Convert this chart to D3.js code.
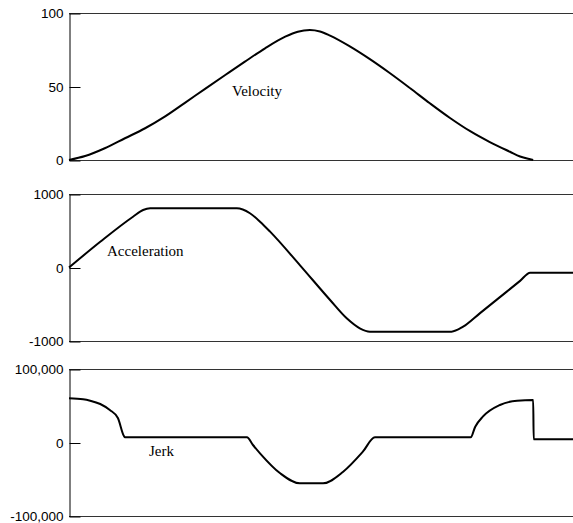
<!DOCTYPE html>
<html>
<head>
<meta charset="utf-8">
<script src="https://cdn.jsdelivr.net/npm/d3@7"></script>
<style>
  body { margin: 0; background: #fff; }
</style>
</head>
<body>
<script>
const w = 573;
const h = 523;

// time in arbitrary units, 0..100 across the plot
const velT = [0, 3.2, 7.1, 11.1, 15.1, 19.0, 23.0, 27.0, 31.0, 34.9, 38.9, 42.9, 45.4, 47.8, 49.8, 51.8, 55.8, 59.7, 63.7, 67.7, 71.6, 75.6, 79.6, 83.5, 87.5, 89.5, 91.5, 92.1];
const velV = [0, 2.7, 8.0, 14.8, 21.6, 29.5, 38.9, 48.4, 57.8, 66.9, 76.0, 83.9, 87.3, 88.4, 87.4, 84.6, 77.1, 68.6, 59.0, 48.8, 38.6, 28.6, 19.6, 12.2, 5.6, 2.4, 0.5, 0];

const accT = [0, 6.2, 12.7, 14.7, 16.1, 33.3, 35.9, 37.9, 39.9, 45.8, 51.8, 55.1, 57.7, 59.7, 75.9, 78.2, 81.5, 85.5, 89.5, 91.5, 100];
const accV = [0, 350, 691, 782, 805, 805, 738, 624, 488, 33, -442, -691, -827, -873, -873, -805, -624, -403, -182, -71, -71];

const jerkT = [0, 2.8, 4.2, 6.2, 8.1, 9.7, 10.9, 11.1, 35.3, 36.5, 37.9, 41.9, 45.8, 50.4, 54.4, 58.3, 60.7, 79.7, 80.6, 82.1, 85.5, 88.9, 92.1, 92.2, 100];
const jerkV = [60100, 58800, 56900, 52400, 44200, 33300, 8800, 7100, 7100, -3400, -14700, -41900, -55500, -55500, -39700, -12500, 7100, 7100, 21500, 35100, 51000, 56900, 57800, 4400, 4400];

const velTicks = [0, 50, 100];
const velTickLabels = ["0", "50", "100"];
const accTicks = [-1000, 0, 1000];
const accTickLabels = ["-1000", "0", "1000"];
const jerkTicks = [-100000, 0, 100000];
const jerkTickLabels = ["-100,000", "0", "100,000"];

const left = 69;
const panelH = 147;

const panels = [
  {top: 13, domain: [0, 100], t: velT, v: velV, ticks: velTicks, labels: velTickLabels,
   name: "Velocity", lx: 232, ly: 96},
  {top: 194, domain: [-1000, 1000], t: accT, v: accV, ticks: accTicks, labels: accTickLabels,
   name: "Acceleration", lx: 107, ly: 256},
  {top: 369, domain: [-100000, 100000], t: jerkT, v: jerkV, ticks: jerkTicks, labels: jerkTickLabels,
   name: "Jerk", lx: 149, ly: 456}
];

const svg = d3.select("body")
              .append("svg")
              .attr("width", w)
              .attr("height", h);

const x = d3.scaleLinear()
            .domain([0, 100])
            .range([left, w]);

panels.forEach(p => {
  const y = d3.scaleLinear()
              .domain(p.domain)
              .range([p.top + panelH, p.top]);

  const g = svg.append("g");

  // top and bottom border
  g.selectAll("line.border")
   .data(p.domain)
   .enter()
   .append("line")
   .attr("class", "border")
   .attr("x1", left)
   .attr("x2", w)
   .attr("y1", d => y(d) + 0.5)
   .attr("y2", d => y(d) + 0.5)
   .attr("stroke", "#333")
   .attr("stroke-width", 1);

  const axis = d3.axisLeft(y)
                 .tickValues(p.ticks)
                 .tickFormat((d, i) => p.labels[i])
                 .tickSizeInner(-11)
                 .tickSizeOuter(0)
                 .tickPadding(6);

  const ag = g.append("g")
              .attr("transform", "translate(" + (left + 0.5) + ",0.5)")
              .call(axis);
  ag.select(".domain").attr("stroke", "#000");
  ag.selectAll(".tick line").attr("stroke", "#000");
  ag.selectAll("text")
    .attr("fill", "#000")
    .style("font-family", "'Liberation Sans', Arial, sans-serif")
    .style("font-size", "13.5px");

  const line = d3.line()
                 .curve(d3.curveMonotoneX)
                 .x(d => x(d[0]))
                 .y(d => y(d[1]));

  g.append("path")
   .datum(d3.zip(p.t, p.v))
   .attr("fill", "none")
   .attr("stroke", "#000")
   .attr("stroke-width", 2)
   .attr("stroke-linejoin", "round")
   .attr("d", line);

  g.append("text")
   .attr("x", p.lx)
   .attr("y", p.ly)
   .attr("style", "font-family: 'Liberation Serif', 'Times New Roman', serif; font-size: 15px;")
   .attr("fill", "#000")
   .text(p.name);
});
</script>
</body>
</html>
